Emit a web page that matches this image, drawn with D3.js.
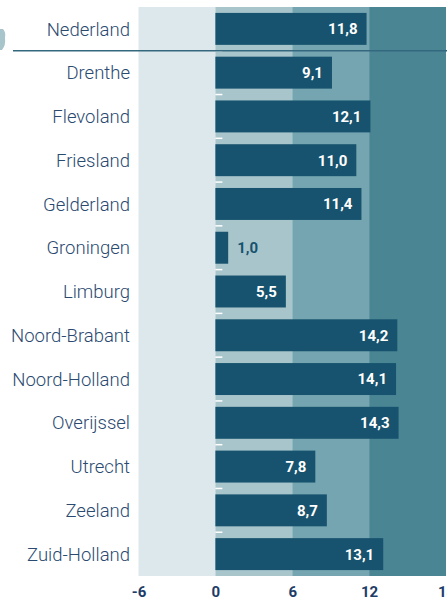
<!DOCTYPE html>
<html>
<head>
<meta charset="utf-8">
<script src="https://cdn.jsdelivr.net/npm/d3@7"></script>
<style>
  body { margin: 0; background: #fff; }
  svg { display: block; font-family: Roboto, "Noto Sans", sans-serif; }
</style>
</head>
<body>
<div id="chart"></div>
<script>
const provinces = ["Nederland", "Drenthe", "Flevoland", "Friesland", "Gelderland", "Groningen",
  "Limburg", "Noord-Brabant", "Noord-Holland", "Overijssel", "Utrecht", "Zeeland", "Zuid-Holland"];
const values = [11.8, 9.1, 12.1, 11.0, 11.4, 1.0, 5.5, 14.2, 14.1, 14.3, 7.8, 8.7, 13.1];
const xTicks = [-6, 0, 6, 12, 18];
const bandColors = ["#dde8ed", "#a8c5cc", "#74a5b0", "#4a8594"];

const width = 447, height = 601;
const data = provinces.map((p, i) => ({ name: p, value: values[i] }));

const svg = d3.select("#chart").append("svg")
  .attr("width", width)
  .attr("height", height);

const x = d3.scaleLinear()
  .domain([-6, 18])
  .range([138.5, 446]);

const y = d3.scaleBand()
  .domain(provinces)
  .range([7, 576])
  .paddingInner(0.27)
  .paddingOuter(0.135);

// background bands
svg.selectAll("rect.band")
  .data(d3.pairs(xTicks))
  .join("rect")
    .attr("class", "band")
    .attr("x", d => x(d[0]))
    .attr("y", 7)
    .attr("width", d => x(d[1]) - x(d[0]))
    .attr("height", 569)
    .attr("fill", (d, i) => bandColors[i]);

// small white ticks between rows
const gap = y.step() * y.paddingInner();
svg.selectAll("line.rowtick")
  .data(provinces.slice(1))
  .join("line")
    .attr("class", "rowtick")
    .attr("x1", x(0))
    .attr("x2", x(0) + 7)
    .attr("y1", d => y(d) - gap / 2)
    .attr("y2", d => y(d) - gap / 2)
    .attr("stroke", "#ffffff")
    .attr("stroke-width", 1.5);

// bars
svg.selectAll("rect.bar")
  .data(data)
  .join("rect")
    .attr("class", "bar")
    .attr("x", x(0))
    .attr("y", d => y(d.name))
    .attr("width", d => x(d.value) - x(0))
    .attr("height", y.bandwidth())
    .attr("fill", "#17536e");

// value labels
const fmt = v => d3.format(".1f")(v).replace(".", ",");
svg.selectAll("text.val")
  .data(data)
  .join("text")
    .attr("class", "val")
    .attr("x", d => d.value < 3 ? x(d.value) + 9 : x(d.value) - 9)
    .attr("y", d => y(d.name) + y.bandwidth() / 2)
    .attr("dy", "0.36em")
    .attr("text-anchor", d => d.value < 3 ? "start" : "end")
    .attr("fill", d => d.value < 3 ? "#17536e" : "#ffffff")
    .style("font-size", "15px")
    .style("font-weight", "bold")
    .text(d => fmt(d.value));

// category labels
svg.selectAll("text.cat")
  .data(data)
  .join("text")
    .attr("class", "cat")
    .attr("x", 130)
    .attr("y", d => y(d.name) + y.bandwidth() / 2)
    .attr("dy", "0.36em")
    .attr("text-anchor", "end")
    .attr("fill", "#2a4a70")
    .style("font-size", "18.5px")
    .style("font-weight", "300")
    .text(d => d.name);

// separator under Nederland
const sepY = y(provinces[1]) - gap / 2;
svg.append("line")
  .attr("x1", 13)
  .attr("x2", width)
  .attr("y1", sepY)
  .attr("y2", sepY)
  .attr("stroke", "#34687e")
  .attr("stroke-width", 1.5);

// decorative shape at left edge
svg.append("path")
  .attr("d", "M0,29 L3,29 Q6,32 5,38 Q6,45 2,50 L0,50 Z")
  .attr("fill", "#a8c5cc");

// x axis labels
const xAxis = svg.append("g")
  .attr("transform", `translate(0, 576)`)
  .call(d3.axisBottom(x).tickValues(xTicks).tickFormat(d => String(d)).tickSize(0).tickPadding(10));
xAxis.select(".domain").remove();
xAxis.selectAll("text")
  .attr("fill", "#1d3c68")
  .style("font-family", "Roboto, sans-serif")
  .style("font-size", "15px")
  .style("font-weight", "bold");
</script>
</body>
</html>
